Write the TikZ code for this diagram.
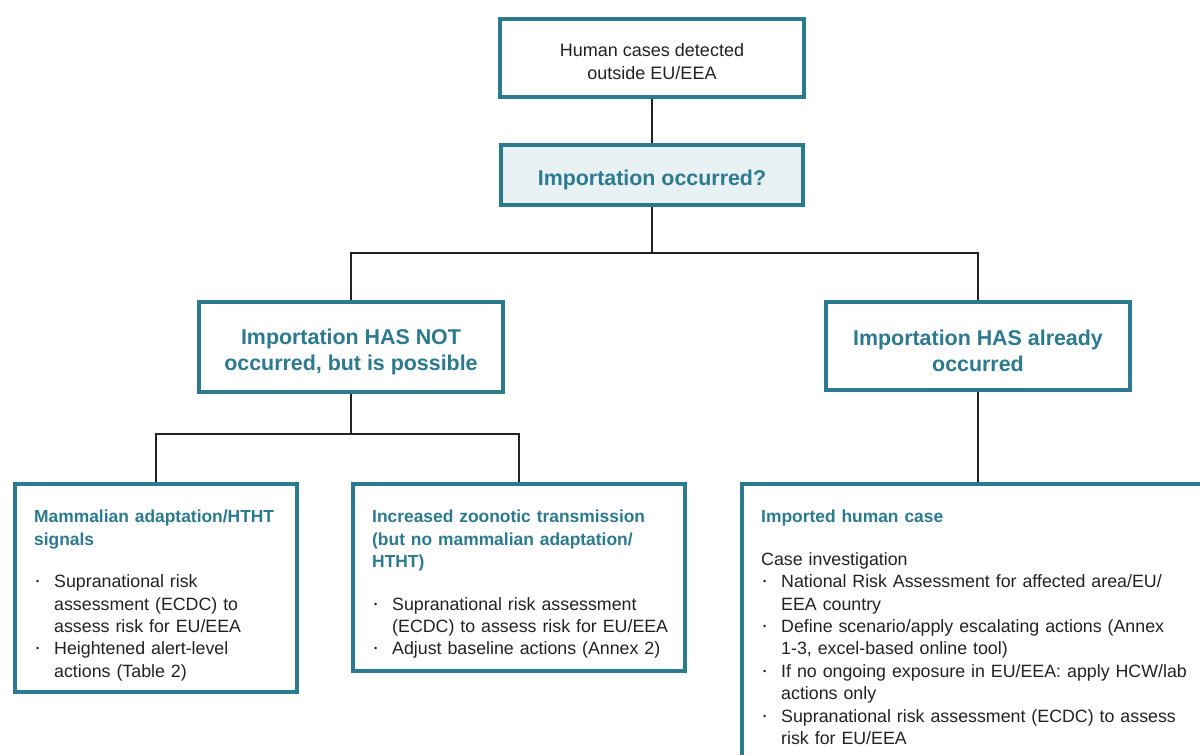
\documentclass[tikz,border=0pt]{standalone}
\usepackage{fontspec}
\setmainfont{Liberation Sans}
\usetikzlibrary{positioning, calc, backgrounds}
\definecolor{ecdcteal}{HTML}{2C7A8F}
\definecolor{ecdcpale}{HTML}{E8F1F4}
\definecolor{inkgray}{HTML}{222222}
\tikzstyle{frame} = [rectangle, draw=ecdcteal, line width=4pt, fill=white, inner sep=0pt]
\tikzstyle{question} = [frame, fill=ecdcpale]
\tikzstyle{title} = [text=ecdcteal, font=\fontsize{21.4}{26}\selectfont\bfseries, align=center]
\tikzstyle{plain} = [text=inkgray, font=\fontsize{18}{23}\selectfont, align=center]
\tikzstyle{body} = [text=inkgray, font=\fontsize{17.8}{22.4}\selectfont, align=left, anchor=north west, inner sep=0pt]
\tikzstyle{link} = [draw=inkgray, line width=2pt]
\newcommand{\lift}[1]{\rule{0pt}{#1}}
\newcommand{\boxhead}[1]{{\fontsize{17.4}{22.4}\selectfont\color{ecdcteal}\bfseries #1}\par\vspace{20pt}}
\newcommand{\bul}[1]{\par\hangindent=20pt\hangafter=1\noindent\makebox[20pt][l]{\hspace{2pt}\raisebox{0.3ex}{\fontsize{9}{9}\selectfont\textbullet}}#1\par}

\begin{document}
\begin{tikzpicture}[x=1pt, y=1pt]
    \clip (0,0) rectangle (1200,-755);

    % top of the tree
    \node (cases) [frame, plain, minimum width=304pt, minimum height=78pt] at (652,-58) {\lift{21pt}Human cases detected\\outside EU/EEA};
    \node (importq) [question, title, minimum width=302pt, minimum height=60pt, below=44pt of cases] {\lift{26pt}Importation occurred?};

    % second level
    \node (notyet) [frame, title, minimum width=304pt, minimum height=90pt] at (351,-347) {\lift{26pt}Importation HAS NOT\\occurred, but is possible};
    \node (already) [frame, title, minimum width=304pt, minimum height=88pt] at (978,-346) {\lift{26pt}Importation HAS already\\occurred};

    % bottom boxes
    \node (mammal) [frame, minimum width=282pt, minimum height=208pt] at (156,-588) {};
    \node (zoonotic) [frame, minimum width=332pt, minimum height=187pt] at (519,-577.5) {};
    \node (imported) [frame, minimum width=488pt, minimum height=316pt] at (986,-642) {};

    \node (mammaltext) [body, text width=255pt] at ([xshift=21pt, yshift=-28pt]mammal.north west) {%
        \boxhead{Mammalian adaptation/HTHT\\signals}%
        \bul{Supranational risk\newline assessment (ECDC) to\newline assess risk for EU/EEA}%
        \bul{Heightened alert-level\newline actions (Table 2)}};
    \node (zoonotictext) [body, text width=305pt] at ([xshift=21pt, yshift=-28pt]zoonotic.north west) {%
        \boxhead{Increased zoonotic transmission\\(but no mammalian adaptation/\\HTHT)}%
        \bul{Supranational risk assessment\newline (ECDC) to assess risk for EU/EEA}%
        \bul{Adjust baseline actions (Annex 2)}};
    \node (importedtext) [body, text width=450pt] at ([xshift=21pt, yshift=-28pt]imported.north west) {%
        \boxhead{Imported human case}%
        \noindent Case investigation
        \bul{National Risk Assessment for affected area/EU/\newline EEA country}%
        \bul{Define scenario/apply escalating actions (Annex\newline 1-3, excel-based online tool)}%
        \bul{If no ongoing exposure in EU/EEA: apply HCW/lab\newline actions only}%
        \bul{Supranational risk assessment (ECDC) to assess\newline risk for EU/EEA}};

    % connectors
    \begin{scope}[on background layer]
        \fill[white] (0,0) rectangle (1200,-755);
        \coordinate (split1) at ($(importq.south)+(0,-46)$);
        \coordinate (split2) at ($(notyet.south)+(0,-40)$);
        \draw [link] (cases.south) -- (importq.north);
        \draw [link] (importq.south) -- (split1) -| (notyet.north);
        \draw [link] (split1) -| (already.north);
        \draw [link] (notyet.south) -- (split2) -| (mammal.north);
        \draw [link] (split2) -| (zoonotic.north);
        \draw [link] (already.south) -- (already.south |- imported.north);
    \end{scope}
\end{tikzpicture}
\end{document}
